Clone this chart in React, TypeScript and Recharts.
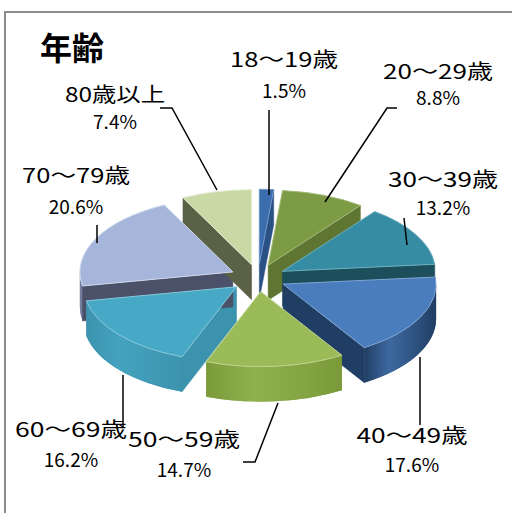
import React from 'react';
import { PieChart, Pie, Cell } from 'recharts';

// age groups and their share (%)
const AGE_GROUPS = ['18〜19歳', '20〜29歳', '30〜39歳', '40〜49歳', '50〜59歳', '60〜69歳', '70〜79歳', '80歳以上'];
const SHARES = [1.5, 8.8, 13.2, 17.6, 14.7, 16.2, 20.6, 7.4];

const TOP_COLORS = ['#3b6cae', '#7d9a45', '#368ca2', '#4a7dbd', '#9bbb59', '#47a9c6', '#a6b5da', '#c8d9a6'];
const SIDE_COLORS = ['#2a5184', '#5e7631', '#1d4e5b', '#203e63', '#7a9a3a', '#3c93ad', '#4b5169', '#5a6147'];
const EDGE_COLORS = ['#6f95c8', '#a3ba78', '#6db0c2', '#7fa4d2', '#bfd48f', '#86c7da', '#d0d8ee', '#e4edd2'];

// label placement (layout only)
const LABEL_LAYOUT = [
    { x: 284, y: 67, py: 98, w: 108, line: '269,110 269,195' },
    { x: 438, y: 79, py: 105, w: 110, line: '397,108 387,108 325,202' },
    { x: 443, y: 187, py: 215, w: 110, line: '404,218 407,245' },
    { x: 412, y: 443, py: 472, w: 111, line: '420,357 420,425' },
    { x: 184, y: 447, py: 477, w: 112, line: '278,403 255,462 243,462' },
    { x: 71, y: 437, py: 467, w: 112, line: '123,375 123,427' },
    { x: 76, y: 183, py: 214, w: 108, line: '97,225 97,243' },
    { x: 115, y: 102, py: 129, w: 100, line: '160,108 172,108 217,190' },
];

const data = AGE_GROUPS.map((name, i) => ({ name, value: SHARES[i] }));

const FONT = '"Noto Sans CJK JP", "Noto Sans", sans-serif';
const TILT = 0.49;
const DEPTH = 35;
const EXPLODE = 28;
const RAD = Math.PI / 180;

function idx(props: any) {
    const name = props.name ?? props.payload?.name;
    const i = AGE_GROUPS.indexOf(name);
    return i < 0 ? 0 : i;
}

function sliceGeom(props: any) {
    const { cx, cy, outerRadius, startAngle, endAngle } = props;
    const a1 = Math.min(-startAngle, -endAngle);
    const a2 = Math.max(-startAngle, -endAngle);
    const am = (a1 + a2) / 2;
    const rx = outerRadius;
    const ry = outerRadius * TILT;
    const ox = cx + EXPLODE * Math.cos(am * RAD);
    const oy = cy + EXPLODE * TILT * Math.sin(am * RAD);
    const pt = (a: number): [number, number] => [ox + rx * Math.cos(a * RAD), oy + ry * Math.sin(a * RAD)];
    return { a1, a2, rx, ry, ox, oy, pt };
}

const RadialWalls = (props: any) => {
    const { a1, a2, ox, oy, pt } = sliceGeom(props);
    const i = idx(props);
    const wall = (a: number) => {
        const [x, y] = pt(a);
        return `M${ox},${oy}L${x},${y}L${x},${y + DEPTH}L${ox},${oy + DEPTH}Z`;
    };
    const paths: string[] = [];
    if (Math.cos(a1 * RAD) < -0.001) paths.push(wall(a1));
    if (Math.cos(a2 * RAD) > 0.001) paths.push(wall(a2));
    return (
        <g>
            {paths.map((d, k) => (
                <path key={k} d={d} fill={SIDE_COLORS[i]} stroke={SIDE_COLORS[i]} strokeWidth={0.5} />
            ))}
        </g>
    );
};

const OuterWall = (props: any) => {
    const { a1, a2, rx, ry, pt } = sliceGeom(props);
    const i = idx(props);
    const lo = Math.max(a1, 0);
    const hi = Math.min(a2, 180);
    if (hi <= lo) return <g />;
    const [sx, sy] = pt(lo);
    const [ex, ey] = pt(hi);
    const d = `M${sx},${sy}A${rx},${ry} 0 0 1 ${ex},${ey}L${ex},${ey + DEPTH}A${rx},${ry} 0 0 0 ${sx},${sy + DEPTH}Z`;
    const id = `wall-grad-${i}`;
    return (
        <g>
            <defs>
                <linearGradient id={id} x1="0" y1="0" x2="1" y2="0">
                    <stop offset="0%" stopColor={SIDE_COLORS[i]} />
                    <stop offset="35%" stopColor={TOP_COLORS[i]} stopOpacity={0.9} />
                    <stop offset="100%" stopColor={SIDE_COLORS[i]} />
                </linearGradient>
            </defs>
            <path d={d} fill={SIDE_COLORS[i]} />
            <path d={d} fill={`url(#${id})`} opacity={0.75} />
        </g>
    );
};

const TopFace = (props: any) => {
    const { a1, a2, rx, ry, ox, oy, pt } = sliceGeom(props);
    const i = idx(props);
    const [x1, y1] = pt(a1);
    const [x2, y2] = pt(a2);
    const large = a2 - a1 > 180 ? 1 : 0;
    return (
        <path
            d={`M${ox},${oy}L${x1},${y1}A${rx},${ry} 0 ${large} 1 ${x2},${y2}Z`}
            fill={TOP_COLORS[i]}
            stroke={EDGE_COLORS[i]}
            strokeWidth={1}
        />
    );
};

const renderLabel = (props: any) => {
    const i = props.index;
    const L = LABEL_LAYOUT[i];
    return (
        <g key={`label-${i}`}>
            <polyline points={L.line} fill="none" stroke="#000" strokeWidth={1.5} />
            <text x={L.x} y={L.y} textAnchor="middle" fontSize={20} fontFamily={FONT} fill="#000"
                textLength={L.w} lengthAdjust="spacingAndGlyphs">
                {AGE_GROUPS[i]}
            </text>
            <text x={L.x} y={L.py} textAnchor="middle" fontSize={19} fontFamily={FONT} fill="#000">
                {SHARES[i].toFixed(1)}%
            </text>
        </g>
    );
};

const pieCommon = {
    data,
    dataKey: 'value',
    nameKey: 'name',
    cx: 258,
    cy: 278,
    outerRadius: 153,
    startAngle: 90,
    endAngle: -270,
    isAnimationActive: false,
    stroke: 'none',
};

export default function App() {
    return (
        <div style={{ position: 'absolute', left: 0, top: 0, width: 512, height: 513, background: '#fff' }}>
            <PieChart width={512} height={513} margin={{ top: 0, right: 0, bottom: 0, left: 0 }}>
                <Pie {...pieCommon} shape={RadialWalls} label={false} labelLine={false}>
                    {data.map((d, i) => <Cell key={`rw-${i}`} fill={SIDE_COLORS[i]} />)}
                </Pie>
                <Pie {...pieCommon} shape={OuterWall} label={false} labelLine={false}>
                    {data.map((d, i) => <Cell key={`ow-${i}`} fill={SIDE_COLORS[i]} />)}
                </Pie>
                <Pie {...pieCommon} shape={TopFace} label={renderLabel} labelLine={false}>
                    {data.map((d, i) => <Cell key={`tf-${i}`} fill={TOP_COLORS[i]} />)}
                </Pie>
            </PieChart>
            <svg width={512} height={513} style={{ position: 'absolute', left: 0, top: 0, pointerEvents: 'none' }}>
                <polyline points="5,513 5,12 512,12" fill="none" stroke="#8c8c8c" strokeWidth={2} />
                <text x={40} y={60} fontSize={32} fontWeight={700} fontFamily={FONT} fill="#000">年齢</text>
            </svg>
        </div>
    );
}
